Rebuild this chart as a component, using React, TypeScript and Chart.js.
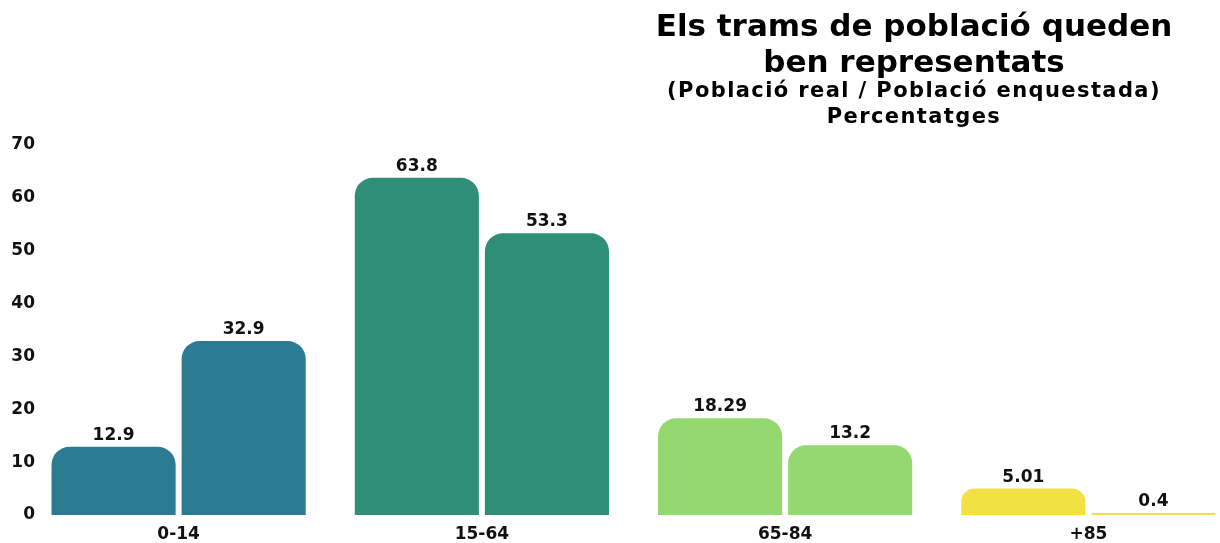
import React, { useEffect, useRef } from "react";
import { Chart, registerables } from "chart.js";

Chart.register(...registerables);

const categories = ["0-14", "15-64", "65-84", "+85"];
const poblacioReal = [12.9, 63.8, 18.29, 5.01];
const poblacioEnquestada = [32.9, 53.3, 13.2, 0.4];
const categoryColors = ["#2b7b92", "#2f8f76", "#94d970", "#f1e143"];
const titleLines = ["Els trams de població queden", "ben representats"];
const subtitleLines = ["(Població real / Població enquestada)", "Percentatges"];
const yMin = 0;
const yMax = 70;
const yStep = 10;

const FONT = "'DejaVu Sans', 'Open Sans', sans-serif";

const titlePlugin = {
  id: "customTitle",
  afterDraw(chart: any) {
    const ctx = chart.ctx;
    const cx = 914;
    ctx.save();
    ctx.fillStyle = "#000";
    ctx.textAlign = "center";
    ctx.textBaseline = "alphabetic";
    ctx.font = `700 31px ${FONT}`;
    (ctx as any).letterSpacing = "0px";
    ctx.fillText(titleLines[0], cx, 36);
    ctx.fillText(titleLines[1], cx, 72);
    ctx.font = `700 21px ${FONT}`;
    (ctx as any).letterSpacing = "1.4px";
    ctx.fillText(subtitleLines[0], cx, 97);
    ctx.fillText(subtitleLines[1], cx, 123);
    ctx.restore();
  },
};

const yTickPlugin = {
  id: "yTickLabels",
  afterDraw(chart: any) {
    const scale = chart.scales.y;
    const ctx = chart.ctx;
    ctx.save();
    ctx.fillStyle = "#111";
    ctx.textAlign = "right";
    ctx.textBaseline = "middle";
    ctx.font = `700 17px ${FONT}`;
    scale.ticks.forEach((t: any) => {
      ctx.fillText(String(t.value), 35, scale.getPixelForValue(t.value));
    });
    ctx.restore();
  },
};

const valueLabelPlugin = {
  id: "valueLabels",
  afterDatasetsDraw(chart: any) {
    const ctx = chart.ctx;
    ctx.save();
    ctx.fillStyle = "#111";
    ctx.textAlign = "center";
    ctx.textBaseline = "alphabetic";
    ctx.font = `700 17px ${FONT}`;
    chart.data.datasets.forEach((ds: any, i: number) => {
      const meta = chart.getDatasetMeta(i);
      meta.data.forEach((bar: any, j: number) => {
        ctx.fillText(String(ds.data[j]), bar.x, bar.y - 7);
      });
    });
    ctx.restore();
  },
};

export default function App() {
  const canvasRef = useRef<HTMLCanvasElement | null>(null);

  useEffect(() => {
    if (!canvasRef.current) return;
    const chart = new Chart(canvasRef.current, {
      type: "bar",
      data: {
        labels: categories,
        datasets: [
          {
            label: "Població real",
            data: poblacioReal,
            backgroundColor: categoryColors,
            borderRadius: 18,
            borderSkipped: "start",
            categoryPercentage: 0.858,
            barPercentage: 0.954,
          },
          {
            label: "Població enquestada",
            data: poblacioEnquestada,
            backgroundColor: categoryColors,
            borderRadius: 18,
            borderSkipped: "start",
            categoryPercentage: 0.858,
            barPercentage: 0.954,
          },
        ],
      },
      options: {
        animation: false,
        responsive: true,
        maintainAspectRatio: false,
        layout: { padding: { top: 145, left: 0, right: 0, bottom: 0 } },
        plugins: {
          legend: { display: false },
          title: { display: false },
          tooltip: { enabled: false },
        },
        scales: {
          x: {
            grid: { display: false, drawTicks: false },
            border: { display: false },
            ticks: {
              color: "#111",
              font: { family: FONT, weight: "bold", size: 17 },
              padding: 9,
            },
            afterFit(scale: any) {
              scale.height = 28;
            },
          },
          y: {
            min: yMin,
            max: yMax,
            grid: { display: false, drawTicks: false },
            border: { display: false },
            ticks: {
              stepSize: yStep,
              display: false,
            },
            afterFit(scale: any) {
              scale.width = 27;
            },
          },
        },
      },
      plugins: [titlePlugin, yTickPlugin, valueLabelPlugin],
    });
    return () => chart.destroy();
  }, []);

  return (
    <div
      style={{
        position: "fixed",
        left: 0,
        top: 0,
        width: 1220,
        height: 543,
        overflow: "hidden",
        background: "#fff",
      }}
    >
      <div style={{ position: "relative", width: 1240, height: 543 }}>
        <canvas ref={canvasRef} />
      </div>
    </div>
  );
}
